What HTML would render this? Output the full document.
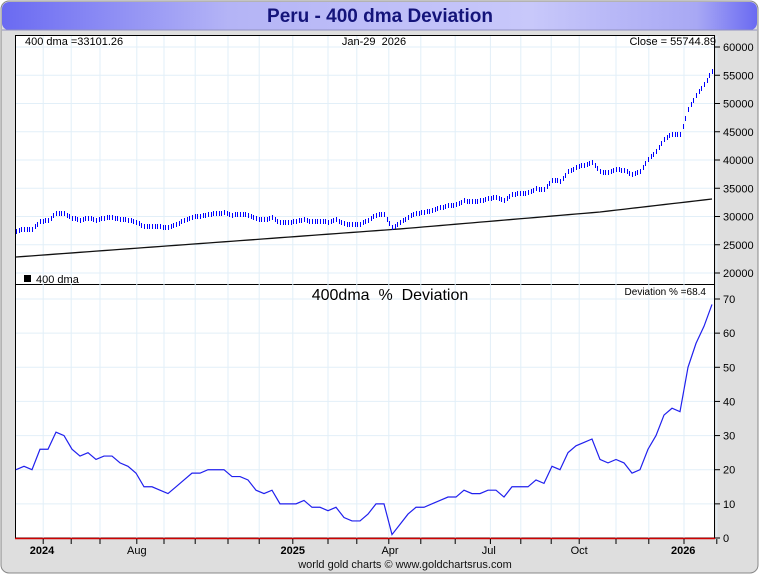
<!DOCTYPE html>
<html><head><meta charset="utf-8"><style>
html,body{margin:0;padding:0;background:#fff;}
svg{display:block;font-family:"Liberation Sans",sans-serif;}
</style></head><body>
<svg id="chart" width="760" height="575" xmlns="http://www.w3.org/2000/svg">
<defs>
<linearGradient id="tg" x1="0" x2="1" y1="0" y2="0">
<stop offset="0" stop-color="#6a6af2"/><stop offset="0.3" stop-color="#b4b4f6"/><stop offset="0.7" stop-color="#c8c8fa"/><stop offset="0.92" stop-color="#a8a8f4"/><stop offset="1" stop-color="#6a6af2"/>
</linearGradient>
</defs>
<rect x="1" y="1" width="757" height="572" rx="8" fill="#dedede" stroke="#888" stroke-width="1"/>
<rect x="2" y="2" width="755" height="28" rx="7" fill="url(#tg)"/>
<line x1="2" y1="30" x2="757" y2="30" stroke="#9090c0"/>
<text x="380" y="22" text-anchor="middle" font-size="19" font-weight="bold" fill="#14147a">Peru - 400 dma Deviation</text>
<rect x="15.5" y="35.5" width="699" height="249" fill="#fff" stroke="#000"/>
<rect x="15.5" y="284.5" width="699" height="253.5" fill="#fff" stroke="#000"/>
<g id="grid"></g>
<g id="series"></g>
<line x1="15" y1="538.5" x2="715" y2="538.5" stroke="#d00000" stroke-width="1.5"/>
<g id="axes"></g>
<text x="25" y="45" font-size="11">400 dma =33101.26</text>
<text x="374" y="45" font-size="11" text-anchor="middle" xml:space="preserve">Jan-29  2026</text>
<text x="716" y="45" font-size="11" text-anchor="end">Close = 55744.89</text>
<rect x="24" y="275" width="7" height="7" fill="#000"/>
<text x="36" y="283" font-size="11">400 dma</text>
<text x="390" y="300" font-size="16" text-anchor="middle" xml:space="preserve">400dma  %  Deviation</text>
<text x="706" y="295" font-size="10" text-anchor="end">Deviation % =68.4</text>
<text x="405" y="568" font-size="11" text-anchor="middle" fill="#111">world gold charts © www.goldchartsrus.com</text>
</svg>
<script>
const deviation=[20,21,20,26,26,31,30,26,24,25,23,24,24,22,21,19,15,15,14,13,15,17,19,19,20,20,20,18,18,17,14,13,14,10,10,10,11,9,9,8,9,6,5,5,7,10,10,1,4,7,9,9,10,11,12,12,14,13,13,14,14,12,15,15,15,17,16,21,20,25,27,28,29,23,22,23,22,19,20,26,30,36,38,37,50,57,62,68.4];
const dma=[22830,22934,23037,23141,23244,23348,23451,23555,23658,23762,23865,23969,24072,24176,24279,24383,24486,24590,24693,24797,24900,25004,25107,25211,25314,25418,25521,25625,25728,25832,25935,26039,26142,26246,26349,26453,26556,26660,26763,26867,26970,27074,27177,27281,27384,27488,27591,27695,27798,27918,28038,28158,28278,28398,28518,28638,28758,28878,28998,29118,29238,29358,29478,29598,29718,29838,29958,30078,30198,30318,30438,30558,30678,30798,30962,31126,31290,31454,31618,31782,31946,32110,32274,32438,32602,32766,32930,33101];
const priceTicks=[20000,25000,30000,35000,40000,45000,50000,55000,60000];
const devTicks=[0,10,20,30,40,50,60,70];
const monthTickIdx=[3.4,6.9,10.5,15.1,18.5,22.4,26.5,30.4,34.6,39,42.6,46.6,50.6,54.9,59.3,63.1,66.9,70.4,75,79.1,83.5,87.6];
const xLabels=["2024","Aug","2025","Apr","Jul","Oct","2026"];
const xLabelIdx=[3.25,15.1,34.6,46.75,59.1,70.4,83.4];
const NS='http://www.w3.org/2000/svg';
const N=deviation.length;
const xS=i=>16+i*(696/(N-1));
const yP=v=>273-(v-20000)*226/40000;
const yD=v=>538-v*239/70;
function mk(tag,attrs,parent){const e=document.createElementNS(NS,tag);for(const k in attrs)e.setAttribute(k,attrs[k]);parent.appendChild(e);return e;}
const grid=document.getElementById('grid'),ser=document.getElementById('series'),ax=document.getElementById('axes');
monthTickIdx.forEach(t=>{const x=xS(t);
 const g=mk('line',{x1:x,x2:x,y1:36,y2:538,stroke:'#e2eff8'},grid);
 
 
 const k=mk('line',{x1:x,x2:x,y1:539,y2:544,stroke:'#000'},ax);
 
 
});
priceTicks.forEach(v=>{const y=yP(v);
 if(y>37&&y<284){const g=mk('line',{x1:16,x2:714,y1:y,y2:y,stroke:'#e2eff8'},grid);
 
 }
 const k=mk('line',{x1:715,x2:720,y1:y,y2:y,stroke:'#000'},ax);
 
 
 const t=mk('text',{x:723,y:y+4,'font-size':11},ax);t.textContent=v;
 
 
});
devTicks.forEach(v=>{const y=yD(v);
 if(y>286&&y<537){const g=mk('line',{x1:16,x2:714,y1:y,y2:y,stroke:'#e2eff8'},grid);
 
 }
 const k=mk('line',{x1:715,x2:720,y1:y,y2:y,stroke:'#000'},ax);
 
 
 const t=mk('text',{x:723,y:y+4,'font-size':11},ax);t.textContent=v;
 
 
});
xLabels.forEach((l,i)=>{const t=mk('text',{x:xS(xLabelIdx[i]),y:554,'font-size':11,'text-anchor':'middle','font-weight':/^\d/.test(l)?'bold':'normal'},ax);t.textContent=l;
 
 
});
const dl=mk('polyline',{points:dma.map((v,i)=>xS(i)+','+yP(v)).join(' '),fill:'none',stroke:'#111','stroke-width':1.3},ser);


const price=deviation.map((d,i)=>dma[i]*(1+d/100));
const step=696/(N-1);
price.forEach((v,i)=>{
 const x0=xS(i),y0=yP(v);
 const nxt=i<N-1?price[i+1]:v;
 const reps=i<N-1?3:1;
 for(let s=0;s<reps;s++){
  const f=s/3;const x=Math.round(x0+f*step)+0.5;const y=y0+(yP(nxt)-y0)*f;
  const b=mk('line',{x1:x,x2:x,y1:Math.round(y-2.5),y2:Math.round(y+2.5),stroke:'#0000ff','stroke-width':1,'shape-rendering':'crispEdges'},ser);
  
  
 }
});
const dv=mk('polyline',{points:deviation.map((v,i)=>xS(i)+','+yD(v)).join(' '),fill:'none',stroke:'#2020ee','stroke-width':1.2},ser);


</script>
</body></html>
